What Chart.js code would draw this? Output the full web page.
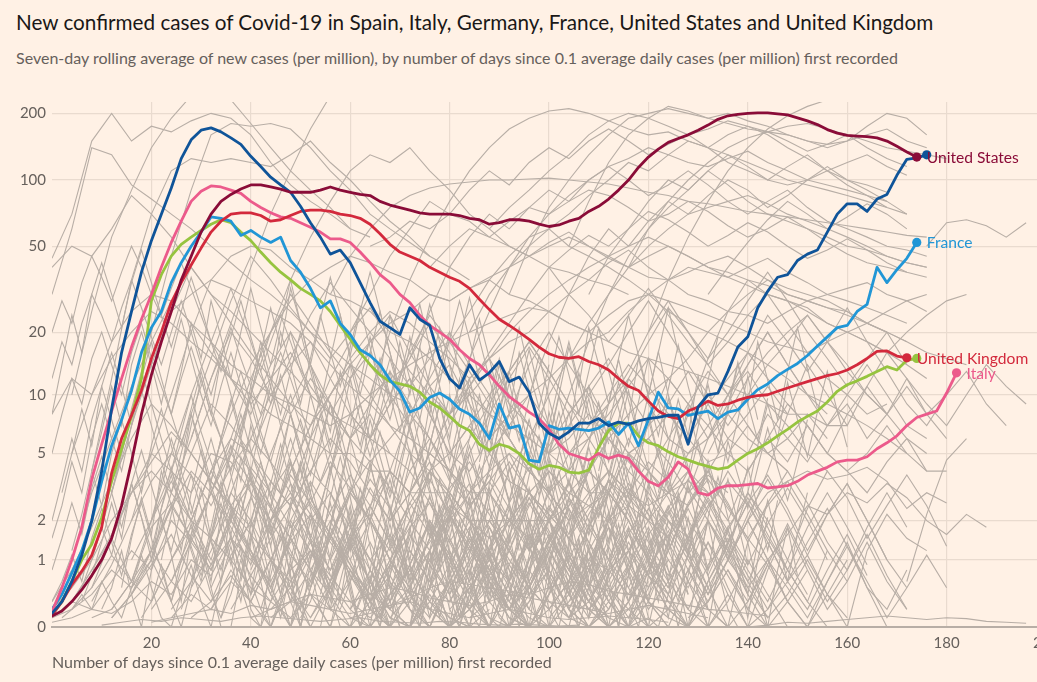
<!DOCTYPE html>
<html><head><meta charset="utf-8">
<script src="https://cdn.jsdelivr.net/npm/chart.js@4"></script>
<style>
html,body{margin:0;padding:0;background:#fff1e5;overflow:hidden;width:1037px;height:682px;}
#title{position:absolute;left:16px;top:10px;font:20.7px Lato,sans-serif;color:#1a1817;white-space:nowrap;}
#subtitle{position:absolute;left:16px;top:48px;font:16px Lato,sans-serif;color:#66605c;white-space:nowrap;}
#c{position:absolute;left:0;top:0;}
</style></head><body>
<div id="title">New confirmed cases of Covid-19 in Spain, Italy, Germany, France, United States and United Kingdom</div>
<div id="subtitle">Seven-day rolling average of new cases (per million), by number of days since 0.1 average daily cases (per million) first recorded</div>
<canvas id="c" width="1070" height="682"></canvas>
<script>
// ---- tick labels ----
const yTickValues = [0, 1, 2, 5, 10, 20, 50, 100, 200];
const xTickValues = [0, 20, 40, 60, 80, 100, 120, 140, 160, 180, 200];
const xTitle = 'Number of days since 0.1 average daily cases (per million) first recorded';

// ---- highlighted series: one value every 2 days from day 0 ----
const mainStep = 2;
const usValues = [0.12,0.18,0.3,0.47,0.7,1.0,1.5,2.5,4.5,8,12.5,18,25,35,45,58,70,80,86,91,95,95,93,91,88,88,88,90,93,90,88,86,85,80,77,75,73,71,70,70,70,69,67,66,63,64,66,66,65,63,61.5,62.5,65,67,72,76,82,90,100,114,127,138,148,154,160,168,177,188,195,198,200,201,201,199,197,191,185,178,169,163,159,158,157,155,150,142,134,127];
const spainValues = [0.15,0.3,0.6,1.1,2.0,4.0,8.5,16,25,38,53,70,92,125,152,168,172,165,155,145,128,115,103,95,88,76,64,55,46,48,42,34,27.5,22.5,21,19.5,26,23,21.5,15,12,10.8,14,11.8,12.8,14.5,11.6,12.2,10.3,7.2,6.4,6,6.5,7.2,7.2,7.6,7,7.3,7.1,7.4,7.6,7.7,7.9,7.9,5.6,8.7,10,10.2,13,17,19,26,31,36,37,43,46,48,58,70,78,78,72,82,86,105,124,126,130];
const italyValues = [0.17,0.5,1.0,1.8,3.6,5.6,8.3,12,17,23,30,40,52,65,80,89,94,93,90,87,80,75,71,68,67,64,61,58,54,54,52,47,42,37,34,30,27.5,24,21.5,20,18.5,16.5,15,14,12.5,11,9.8,9,8.2,7.6,6.7,5.6,5,4.8,4.6,5,4.7,4.9,4.7,4.0,3.5,3.3,3.7,4.5,4.1,3.0,2.9,3.2,3.3,3.3,3.35,3.4,3.2,3.25,3.3,3.5,3.8,4.0,4.2,4.5,4.6,4.6,4.8,5.3,5.7,6.2,7.0,7.7,8.0,8.3,10.2,12.8];
const germanyValues = [0.13,0.3,0.6,1.0,1.35,2.1,3.5,5.3,7.8,12,28,37,45,51,55,59,63,66,64,58,53,47,42,38,35,32,30,28,25,21.5,18.5,16,14,12.5,11.6,11.3,11,10.3,9.2,8.6,7.8,7,6.6,5.6,5.2,5.6,5.4,5,4.4,4.1,4.3,4.2,3.95,3.9,4.05,5.4,6.6,7.2,7.2,6.2,5.7,5.5,5.1,4.8,4.6,4.4,4.25,4.1,4.2,4.6,5.0,5.3,5.7,6.2,6.7,7.3,7.8,8.3,9.2,10.4,11.2,11.7,12.3,13,13.7,13.2,14.7,15];
const franceValues = [0.2,0.4,0.75,1.2,2.0,3.5,5.5,7.5,10.5,16,21,25,34,42,50,58,68,67,65,56,59,55,52,55,43,38,32,26,28,22,19.5,16.5,15.5,14,11.8,10.4,8.2,8.6,9.7,10.2,9.5,8.5,8,7.2,6,9,6.8,7,4.6,4.5,7,6.7,6.8,6.7,6.6,6.8,7.3,6.3,7.2,5.5,7.5,10.3,8.6,8.5,7.9,8.1,8.3,7.6,8.2,8.4,9.5,10.6,11.3,12.4,13.3,14.2,15.5,17.2,19,21,21.5,25,27,40,34,39,44,52];
const ukValues = [0.13,0.3,0.55,0.78,1.1,1.8,3.9,6,7.9,10.5,15,20,27.5,34,41,49,58,65,70,71,71,69,65,66,69,72,73,73,72,70,69,67,63,57,51,47,45,43,40,38,36,34.5,32,28.5,25.5,23,21.5,20,18.5,17,15.8,15.2,15,15.3,14.5,14,13.2,12,11,10.5,9.3,8.3,7.8,7.6,8.3,8.7,9.3,8.85,9,9.4,9.7,9.9,10,10.4,10.8,11.2,11.6,12,12.4,12.7,13.2,14,15,16.2,16.3,15.4,15.1];

// ---- other countries (grey): one value every 4 days from the given first day ----
const greyStep = 4;
const greyStart = [0,0,0,4,8,12,28,36,56,64,92,104,116,176,80,100,8,16,28,40,48,60,68,76,88,96,4,0,120,132,20,36,0,8,4,12,16,20,24,28,32,40,44,52,60,8,72,0,80,16,96,104,160,172,140,136,140,24,48,64,12,84,108,124];
const greyValues = [
 [44,70,150,200,150,175,165,185,200,190,160,120,95,80,70,60,55],
 [30,60,140,130,95,82,70,60,50,42,35,30,25,20,17,14,12,10,9],
 [40,50,45,60,85,70,55,40,30,25,20,16,13,10,8,7,6,5],
 [10,25,55,90,140,190,240,260,230,180,140,110,90,75,60],
 [4,12,35,70,110,125,120,125,120,115,130,150,120,100,80,65,55,45,40,35],
 [3,8,20,45,90,160,180,175,180,170,140,110,90,70,60,52,45],
 [6,12,22,40,70,110,170,240,280],
 [5,10,20,35,55,80,110,130,120,140,110,90,70,60,50,45,40,38,35,33,30],
 [30,45,60,75,85,92,96,98,100,100,101,102,100,98,96,92,88,85,80,78,75,72,70,68,66,64,62,60,58,56,55],
 [10,20,35,55,80,110,140,170,190,205,210,200,185,170,160,165,150,140,130,120,110,100,95,90,85,80,75],
 [30,50,75,100,130,160,190,200,210,200,190,180,170,165,160,150,145,150,160,170,150,140],
 [50,80,120,160,190,215,205,190,200,185,175,160,150,140,150,175,200,190,160],
 [40,60,80,100,120,140,155,165,175,180,170,160,150,140,135,130,125],
 [50,64,66,62,55,64],
 [8,15,25,40,55,70,85,100,115,125,140,130,120,115,125,135,120,110,100,95,90,85,80],
 [5,10,18,30,45,60,75,90,110,95,80,70,65,60,55,50,48,45,42,40],
 [1,3,8,15,25,30,35,32,28,25,22,18,14,11,9,7,6,5,4,3,3,2,2],
 [2,5,10,20,35,45,50,48,40,35,30,28,25,20,18,15,12,10,8,7,6,5,4,3,3,2],
 [2,4,8,14,20,28,35,40,45,42,38,35,30,28,32,36,40,45,50,55,50,45,40,36,35,38,42,45,40,35,30,28,26,25,22,20,18],
 [1,2,4,7,10,14,18,22,25,30,28,32,35,30,28,25,22,20,24,28,30,35,40,38,36,33,30,28,25,22,20,18,16,20,24,28,30],
 [3,6,10,15,20,25,22,18,15,12,15,18,20,25,30,35,42,48,40,35,30,28,25,24,22,25,28,26,24,22,20],
 [1,2,4,8,12,18,25,35,45,55,60,50,45,40,35,30,25,22,20,18,16,14,12,10,9,8,7,6,5,4,4],
 [2,3,5,8,12,15,20,25,30,35,40,45,50,55,50,45,40,38,35,33,30,28,30,32,34,30,28,25],
 [1,2,3,5,7,10,12,15,18,20,25,30,28,26,24,22,20,18,17,16,18,20,22,25,28,30],
 [2,4,6,10,15,22,30,40,50,60,70,75,80,85,78,70,65,60,55,50,45,42,40],
 [1,2,3,4,6,8,10,12,15,20,25,30,35,32,30,28,25,22,20,18,16,15,14],
 [5,10,18,25,30,28,22,18,14,12,10,9,8,7,8,10,12,14,16,18,20,22,24,26,25,22,20,18,16,15,14,13,12,11,10,9,8,8,7,7],
 [8,12,10,15,20,25,22,18,15,12,10,8,7,6,5,5,4,4,3,3,3,2,2,2,2,2],
 [2,4,8,15,25,35,30,28,26,22,20,18,16,14,12],
 [5,8,12,16,20,24,18,14,10,8,6,5],
 [1,3,6,12,20,15,10,14,18,12,8,6,9,12,8,5,4,6,8,5,3,2,3,4,3,2,1],
 [1,2,5,9,14,8,12,16,10,7,11,14,9,6,8,10,7,5,6,8,11,15,12,9,7,10,13,9,7,5,4],
 [0.2,0.5,1,2,3,4,3,2,1.5,1,0.5,0.3,0.8,1.2,0.6,0.2,0,0.4,0.8,0.3,0,0.5,1,0.6,0.2,0],
 [0.5,1.5,3,5,4,2,1,3,2,0.5,0,1,2,1,0.3,0,0.5,1.5,2.5,2,1,0.4,0,0,0.3,0.6,0.2],
 [0.3,0.8,1.5,0.6,2,3.5,2,4,2.5,1.2,0.5,1.5,0.4,0,0.8,0.2,0,0,0.5,0.1,0],
 [0.2,0.6,1.2,2.5,1.5,3,5,3.5,2,3,1.5,0.8,2,1,0.5,1.2,0.6,0.3,0.8,0.4,0.2,0.6,1.4,0.7,0.3,0.1],
 [0.5,1,0.3,1.5,0.8,2,1.2,0.4,0,0.6,1.8,0.9,0.2,0,0,0.4,0,0.3,0.9,0.2,0,0,0.5,1.2,0.3,0],
 [0.3,1,2,4,6,5,3,4.5,2.5,1.5,3,2,1,1.8,2.6,1.4,0.6,1.2,2,3,2.2,1.5,2.4,3.5,2.8,2,1.5,2.5,3.8,3],
 [0.1,0.4,0.2,0.8,0.3,0,0.6,1.4,0.5,0.1,0,0.3,0.9,0.2,0,0.5,0.1,0,0.4,0.8,0.2,0,0.3,0,0.1],
 [0.5,1.2,2.5,1.8,3.5,2.5,4,3,1.5,2.2,1,0.5,1.5,2.8,1.6,0.8,0.3,1,2,1.2,0.5,1.5,3,4.5,3.5,2,1.2],
 [0.2,0.6,0.3,1,2,1.2,0.4,0,0.8,0.2,0,0.5,1.5,0.6,0,0,0.3,1,0.4,0,0.2,0.7,0,0],
 [0.4,1,2,3.5,2.2,1.2,2.5,4,3,1.8,1,2,1.2,0.6,1.4,2.5,1.5,0.8,0.3,0.8,1.6,2.4,1.2,0.5],
 [0.1,0.3,0.8,0.4,1.5,0.6,0,0.3,1,2.2,1,0.3,0,0.5,1.3,0.4,0,0.2,0.9,1.8,0.8,0.2,0,0.4],
 [0.5,1.5,3,2,4,3,5,4,2.5,3.5,2,1.2,2.4,1.5,0.8,2,3.2,2.2,1.2,2.5,3.6,2.4,1.5,0.9],
 [0.2,0.8,0.3,1.5,2.8,1.5,0.6,1.8,0.8,0.2,1.2,2.4,1.2,0.4,0,0.8,1.6,0.6,0,0.3,1,0.4,0],
 [0.1,0.2,0.6,0.3,1,1.8,0.9,2.2,1.2,0.5,1.5,0.8,0.2,0.6,1.4,0.6,0.2,0,0.5,1.2,2,1.2,0.5,1.5,0.8,0.3,0.9,1.8,1,0.4,0,0.3,0.8,0.2,0],
 [0.3,1,2.2,1.2,3,4.5,3,2,3.5,2,1,2.5,4,2.8,1.5,0.8,1.8,2.8,1.6,0.8,0.3,1.2],
 [0.1,0.2,0.4,0.8,0.5,1.2,0.6,0.3,0.9,1.5,0.7,0.3,0.1,0.4,0.2,0,0.3,0.7,0.2,0,0,0.2,0.5,0.1,0,0.2,0.6,0.2,0,0,0.3,0.1,0],
 [0.2,0.5,1,0.4,1.6,0.8,0.2,0.8,1.8,1,0.3,0,0.6,1.4,0.5,0,0.2,0.8,0.3,0],
 [1,2,4,3,5,4.5,3,2,2.8,1.6,0.8,1.5,2.5,1.4,0.6,1.2,0.5,0.2,0.8,0.3,0,0.5,1.1,0.4,0,0.2,0.6],
 [0.5,1.2,2.5,4,3,5,6,4.5,3,4,2.5,1.5,2.5,3.5,2.2,1.2,0.6],
 [0.1,0.3,0.8,0.4,1.2,0.6,0.2,0.9,1.5,0.7,0.2,0.6,1.1,0.4,0.1],
 [0,1.2,2.2,1.5,1.2],
 [0.6,2.2,4.6,6],
 [0,0.02,0.05,0.04,0.06,0.08,0.1,0.12,0.1,0.08,0.1,0.09,0.06,0.05,0.04],
 [1,2,3,3.5,4,3.6,3.8,4.2,3.5,2.4,3,2.6],
 [0.5,1,1.6,2.5,2.2,3,2.6,3.4,2.8,2,1.6,2.2,1.8],
 [0.2,0.6,1.5,3,6,10,8,12,9,6,8,5,4,6,3.5,2.5,3.5,5,3,2,2.5,4,6,4,3,2,1.5,2.5,3.5,2.5],
 [0.5,1.5,4,8,6,9,12,8,5,7,10,6,4,5.5,8,11,7,5,4,6,9,13,10,7,5,6,8,6],
 [0.3,0.8,2,4,3,5,8,6,4,3,5,7,10,14,11,8,6,9,12,16,12,9,7,5,4,5,7,5],
 [0.1,0.4,1,2.5,5,9,7,5,3.5,2.5,4,6,4.5,3,2,3,4.5,3,2,1.5,2,3,2.2,1.5,1,0.8,1.2,0.7,0.4],
 [0.5,1,2,1.5,3,2,4,3,6,4,3,5,7,5,4,6,9,7,5,4,3,4.5,6,4],
 [0.2,0.5,1.2,2,3,2.5,4,6,5,8,6,4.5,7,9,6,8,11,8,10,13,9,7],
 [0.5,1.5,3,2,4,6,4.5,7,5,8,11,8,12,9,7,10,14,11,9]
];

// low-incidence countries (grey), same 4-day spacing
const lowStart = [0,4,8,12,16,20,24,28,32,36,40,44,48,52,56,60,64,68,72,76,80,84,88,92,96,100,104,108,112,116,0,0,0,124,128,20,40,10,60];
const lowValues = [
 [0.1,0.3,0.2,0.6,1.2,0.8,2,1.4,3,1.8,0.9,2.4,1.2,0.5,1.6,0.7,0.2,0.9,0.3,0,0.6,0.2,0,0.4,0.1,0],
 [0.2,0.5,1.1,0.6,1.8,2.6,1.5,0.8,2.2,3.4,2,1.1,0.6,1.5,0.8,0.3,1,0.4,0.1,0.6,1.3,0.5,0.2,0.8,0.3,0.1,0],
 [0.3,0.9,2,3.5,5,3.8,2.5,4.2,6,4.5,3,2,3,1.8,1,1.6,0.8,1.4,2.2,1.3,0.7,1.2,0.5,0.2,0.6,0.2],
 [0.1,0.4,0.9,1.6,0.7,0.3,1.1,2,1,0.4,0,0.5,1.4,0.6,0.1,0,0.3,0.9,1.8,0.8,0.2,0,0.4,1,0.3,0],
 [0.4,1.2,2.4,4,3,5.5,4,2.5,1.5,2.8,1.6,3.2,2,1,0.5,1.2,2.4,1.4,0.6,0.2,0.8,1.6,0.7,0.2,0,0.3,0.8,0.3],
 [0.2,0.6,1.4,0.8,2,1.1,0.5,1.6,2.8,1.6,0.7,0.3,1,0.4,0,0.7,1.5,0.6,0.1,0,0.4,1.1,0.5,0.1,0],
 [0.6,1.6,3,2,4.2,3,1.8,2.6,4.5,3.2,2,1.2,2.4,3.6,2.2,1.2,0.6,1.4,2.6,1.5,0.8,1.8,3,2,1,0.5],
 [0.1,0.3,0.7,0.3,1,0.5,0.1,0.6,1.4,0.6,0.1,0,0.5,1.2,0.5,0,0,0.3,0.8,0.2,0,0.4,0.9,0.3,0],
 [0.5,1.4,2.8,1.6,3.4,2.2,1,2,3.6,2.4,1.2,0.6,1.8,3,1.8,0.9,2,1,0.4,1.2,2.2,1.2,0.5,1.4,0.6,0.2],
 [0.2,0.7,1.5,2.5,1.4,0.6,1.8,1,0.3,0.9,2,1.1,0.4,0,0.6,1.6,0.7,0.2,0.9,0.3,0,0.5,1.2,0.4],
 [0.8,2,3.8,2.6,1.6,3,4.6,3.2,2,1.2,2.2,3.4,2.2,1.2,0.6,1.4,2.4,1.4,0.7,1.6,2.8,1.8,1,0.4,1,0.5],
 [0.2,0.5,1.2,0.5,1.6,0.8,0.2,0.9,1.9,0.9,0.3,0,0.7,1.5,0.6,0.1,0.5,1.3,0.5,0,0.2,0.8,0.2,0],
 [0.4,1.1,2.3,3.8,2.5,1.4,2.6,4,2.8,1.6,0.8,1.6,2.8,1.6,0.8,0.3,1,2,1,0.4,1.1,2,1.1,0.4],
 [0.1,0.5,1.3,0.6,0.2,0.9,2,1,0.4,1.2,0.5,0,0.4,1.1,0.4,0,0.3,0.9,0.3,0,0.6,1.4,0.6,0.1],
 [0.6,1.6,3.2,2,4,2.6,1.4,2.4,3.8,2.4,1.2,2,3.4,2,1,0.5,1.3,2.5,1.5,0.7,1.7,3,1.8,0.8],
 [0.2,0.6,1.5,0.7,2,1.1,0.4,1.3,2.5,1.3,0.5,0.1,0.8,1.8,0.8,0.2,0.6,1.4,0.5,0,0.3,0.9,0.3],
 [0.5,1.3,2.6,1.6,3.2,4.5,3,1.8,3,2,1,2.2,3.5,2.2,1.1,0.5,1.5,2.7,1.6,0.8,0.3,1,0.4],
 [0.1,0.4,1,0.4,1.5,0.7,0.2,1,2,0.9,0.3,0.8,1.7,0.7,0.2,0,0.5,1.2,0.4,0,0.3,0.8],
 [0.6,1.5,3,2,1.2,2.6,4.2,2.8,1.6,2.8,4,2.6,1.4,0.7,1.6,2.8,1.7,0.9,1.9,3.2,2,1],
 [0.2,0.6,1.4,2.4,1.3,0.5,1.5,2.7,1.4,0.5,0.1,0.8,1.7,0.8,0.3,1,2,1,0.3,0,0.4,1],
 [0.3,0.9,2,1.2,2.8,1.7,0.8,1.8,3.2,2,1,2.2,3.6,2.3,1.2,0.6,1.4,0.6,0.2,0.8,1.6,0.7],
 [0.1,0.3,0.9,0.4,1.2,0.5,0.1,0.7,1.6,0.7,0.2,0,0.6,1.3,0.5,0.1,0.4,1,0.4,0],
 [0.4,1.2,2.5,4,2.8,1.6,3,5,3.4,2,1.2,2.4,4,2.6,1.5,0.8,1.8,3,1.8,0.9],
 [0.2,0.5,1.2,0.6,1.8,1,0.3,1.1,2.3,1.1,0.4,1,2,1,0.3,0,0.6,1.4,0.5,0],
 [0.5,1.4,2.8,1.8,3.6,2.4,1.2,2.4,4,2.6,1.4,2.6,3.8,2.4,1.2,2.2,3.4,2,1],
 [0.1,0.4,1,2,1,0.3,1.2,2.4,1.2,0.4,0,0.8,1.8,0.8,0.2,0.6,1.4,0.6,0.2],
 [0.3,0.9,2,3.4,2.2,1.2,2.6,4,2.6,1.4,2.6,4,2.6,1.4,0.8,1.8,3,1.8],
 [0.2,0.6,1.4,0.7,2,1.1,0.4,1.4,2.6,1.4,0.6,1.4,2.4,1.3,0.5,0.2,0.8],
 [0.4,1.2,2.4,1.5,3.2,2,1,2.2,3.6,2.2,1.1,2.2,3.4,2,1,0.5],
 [0.1,0.4,1,0.5,1.4,0.7,0.2,0.9,1.9,0.9,0.3,0.8,1.6,0.7,0.2],
 [0.05,0.1,0.2,0.15,0.3,0.6,0.4,1,0.7,1.5,1,0.6,1.4,2.2,1.4,0.8,0.4,0.9,1.6,0.9,0.4,1,1.8,1,0.5,0.2,0.6,1.2,0.5,0.2,0],
 [0.1,0.3,0.8,1.6,3,4.5,6.5,5,3.5,2.5,3.6,2.4,1.5,0.8,1.6,0.9,0.4,0.2,0.5,0.2,0,0.2,0.6,0.2,0],
 [0.3,0.8,1.8,3.5,6,9,7,5,3.5,2.4,1.6,1,0.6,1.2,0.7,0.3,0.1,0.4,0.8,0.3,0.1,0,0.2],
 [0.2,0.8,2,1.2,3,2,1,2.4,4,2.8,1.5,2.5,3.8,2.5,1.3],
 [0.1,0.3,0.8,0.3,1,0.5,0.1,0.6,1.3,0.6,0.1,0.5,1.1,0.5],
 [0.05,0.1,0.15,0.2,0.15,0.25,0.2,0.3,0.25,0.2,0.15,0.2,0.25,0.3,0.2,0.15,0.1,0.15,0.2,0.15,0.1,0.08,0.1,0.12,0.1,0.08,0.05],
 [0.1,0.2,0.3,0.4,0.35,0.3,0.4,0.5,0.45,0.35,0.3,0.25,0.3,0.4,0.35,0.3,0.25,0.2,0.15,0.2,0.25,0.2,0.15,0.1],
 [0.02,0.05,0.08,0.06,0.1,0.08,0.06,0.1,0.12,0.1,0.08,0.06,0.08,0.1,0.06,0.05,0.04,0.06,0.05,0.03,0.02,0.03,0.02,0.01,0.02],
 [0.1,0.15,0.25,0.35,0.5,0.6,0.55,0.5,0.45,0.4,0.5,0.6,0.55,0.45,0.4,0.35,0.3,0.25,0.2,0.18,0.15,0.12]
];

// mid- and high-incidence countries (grey), same 4-day spacing
const highStart = [20,32,44,56,12,24,68,84,100,112,4,40,128,140,60,72,84,96,108,76,88,120,64,100,132];
const highValues = [
 [2,5,10,18,12,8,14,20,14,9,6,9,13,9,6,4,6,9,6,4,3,4,6,4,3,2.5,3,4,3],
 [3,6,12,20,30,22,16,12,18,24,16,11,8,11,15,10,7,5,7,10,7,5,6,8,6,4.5,5,7,5,4],
 [2,4,7,12,18,14,10,15,22,16,11,8,12,17,12,8,11,15,10,7,9,13,9,6,8,11,8],
 [1,3,6,10,16,24,18,13,9,13,18,13,9,6,9,13,20,28,20,14,10,14,20,14,10,8],
 [3,7,14,25,40,30,22,16,12,9,7,10,14,10,7,5,4,5,7,5,3.5,3,4,3,2.5,2,2.5,2],
 [4,8,15,28,45,35,26,20,15,20,26,18,13,10,8,10,13,9,7,5,6,8,6,4.5,3.5,3,3.5,3],
 [1,2,4,7,11,16,22,30,40,30,24,18,24,32,24,18,14,18,24,30,22,16,12,10,8,9],
 [2,4,8,14,20,14,10,14,20,28,20,14,10,7,10,14,18,24,18,13,10,8],
 [1,2,4,7,12,18,26,20,15,20,28,38,28,20,15,11,15,20,14],
 [2,4,7,12,9,6,9,14,20,14,10,7,10,14,10,7,6],
 [1,3,6,11,18,28,22,16,12,9,12,16,11,8,6,4.5,6,8,6,4,3,4,5,4,3,2,2.5,3,2],
 [5,9,15,24,34,26,20,15,11,15,20,14,10,13,18,13,9,7,9,12,9,6,5,6,8,6,5,4],
 [3,6,10,16,24,18,13,18,26,18,13,9,7,10],
 [2,4,8,14,10,7,11,16,12,8,6],
 [20,30,45,60,80,70,90,110,95,120,140,125,150,170,150,130,145,160,140,120,110,100,95,100,110,120,130,115,105],
 [15,25,40,55,70,60,75,90,80,100,115,100,85,95,110,95,80,70,80,90,75,65,60,55,50,48,45],
 [20,30,40,50,60,70,85,100,120,110,130,150,140,160,175,165,150,135,145,160,140,125,115],
 [10,18,30,45,60,50,65,80,70,85,100,90,75,85,100,115,100,90,80,70],
 [30,45,60,80,100,90,110,130,115,100,115,130,110,95,85,75,70],
 [40,50,60,55,65,75,70,80,90,85,75,65,70,80,72,62,55,60,68,60,52,46,42,40,38],
 [60,75,90,110,130,160,185,200,190,175,160,170,185,175,160,140,125,110,100,95,88],
 [20,35,55,80,110,140,170,195,215,230],
 [50,55,65,60,70,65,55,50,45,52,58,50,44,40,45,50,45,40,36,40,44,38,34,30,28,26,24,22],
 [40,48,56,50,60,72,66,58,50,56,64,58,50,44,48,54,48,42,38,36],
 [30,40,52,66,80,70,60,68,78,70,60]
];

// noisy countries (grey): one value every 2 days from the given first day
const dailyStep = 2;
const dailyStart = [10,14,18,22,26,30,34,38,42,46,50,54,58,62,66,70,74,78,82,86,90,94,98,102,106,110,114,118,2,6,
                    20,26,32,38,44,50,56,62,68,74,80,86,92,98,104,110,116,122,128,134,24,40,60,100,140,
                    0,0,0,0,0,0,2,4,0,6,0,8];
const dailyValues = [
 [0.2,0.5,1.2,0.4,0,0.8,2.1,1.1,0.3,1.6,3.2,1.5,0.6,2.4,1.2,0.2,0,0.9,1.8,0.7,0,0.5,1.4,2.6,1.3,0.4,0,0.6,1.5,0.5,0,0,0.8,1.9,0.9,0.2,0,0.4,1.1,0.3],
 [0.5,1.5,2.8,1.6,4,2.5,1.2,3,5.2,3.1,1.8,0.9,2.2,3.8,2,1,0.4,1.6,2.9,1.5,0.6,1.8,3.4,1.9,0.8,0.3,1.2,2.5,1.3,0.5,0,0.7,1.6,0.6,0.1,0.4,1.2,0.5],
 [0.1,0.3,0.9,0.3,0,0.5,1.3,0.5,0,0,0.7,1.6,0.6,0,0.3,1,0.3,0,0,0.6,1.4,0.6,0,0.2,0.9,0.3,0,0,0.5,1.2,0.4,0,0.3,0.8,0.2,0],
 [1,2.2,4,2.5,1.4,3.5,6,3.8,2.2,4,2.4,1.3,2.8,4.6,2.8,1.5,0.7,1.9,3.4,2,1,2.4,4,2.4,1.2,0.6,1.6,2.9,1.6,0.7,1.5,2.8,1.4,0.6],
 [0.2,0.6,1.5,0.6,2.2,1,0.3,1.4,2.8,1.3,0.4,0,0.9,2,0.8,0.2,1.1,2.3,1,0.3,0,0.7,1.6,0.6,0.1,0.9,1.9,0.8,0.2,0,0.5,1.2,0.4],
 [0.8,1.8,3.5,2,4.8,3,1.6,3.4,5.6,3.4,1.9,1,2.4,4.2,2.4,1.2,2.6,4.4,2.5,1.3,0.6,1.7,3.1,1.7,0.8,2,3.5,2,1,0.4,1.3,2.4,1.2],
 [0.1,0.4,1,0.4,1.5,0.6,0.1,0.8,1.8,0.8,0.2,0,0.6,1.4,0.5,0,0.9,1.9,0.8,0.2,0,0.5,1.2,0.4,0,0.7,1.6,0.6,0.1,0,0.4,1],
 [0.6,1.5,3,1.7,0.8,2.4,4.2,2.4,1.2,2.8,4.8,2.8,1.5,0.8,2,3.6,2,1,2.4,4,2.3,1.2,0.6,1.7,3,1.6,0.7,1.8,3.2,1.7,0.8],
 [0.2,0.7,1.6,0.7,0,1,2.2,1,0.3,1.4,2.8,1.3,0.4,0,0.8,1.8,0.7,0.1,1,2.2,0.9,0.2,0,0.7,1.6,0.6,0.1,0.8,1.7,0.6,0.1],
 [1.2,2.6,4.5,3,1.8,3.8,6.5,4,2.4,4.4,2.6,1.5,3.2,5.2,3.2,1.8,1,2.2,3.8,2.2,1.2,2.8,4.5,2.6,1.4,0.8,1.9,3.3,1.8,0.9],
 [0.1,0.3,0.8,0.3,1.2,0.5,0,0.6,1.5,0.6,0.1,0,0.5,1.2,0.4,0,0.8,1.7,0.7,0.1,0,0.4,1.1,0.4,0,0.6,1.4,0.5,0],
 [0.4,1.1,2.4,1.3,3.2,2,0.9,2.2,3.9,2.2,1.1,0.5,1.5,2.9,1.5,0.7,1.8,3.2,1.7,0.8,0.3,1.1,2.2,1.1,0.4,1.3,2.5,1.2,0.5],
 [0.2,0.6,1.3,0.5,0,0.9,2,0.9,0.2,1.2,2.5,1.1,0.3,0,0.7,1.6,0.6,0,0.9,2,0.8,0.2,0,0.6,1.4,0.5,0.1,0.7],
 [0.8,2,3.8,2.3,1.2,3,5.2,3.2,1.8,3.4,5.6,3.4,1.9,1,2.4,4.2,2.4,1.2,2.8,4.6,2.6,1.4,0.7,1.9,3.4,1.8,0.8],
 [0.1,0.4,1.1,0.4,1.6,0.7,0.1,0.9,2,0.9,0.2,0,0.7,1.6,0.6,0,1,2.1,0.9,0.2,0,0.5,1.3,0.5,0,0.7],
 [0.5,1.3,2.7,1.5,3.6,2.2,1,2.5,4.3,2.5,1.2,0.6,1.7,3.2,1.7,0.8,2,3.6,1.9,0.9,0.4,1.3,2.5,1.2,0.5],
 [0.3,0.8,1.8,0.8,0.1,1.1,2.4,1.1,0.3,1.5,3,1.4,0.5,0,0.9,2,0.8,0.1,1.1,2.3,1,0.3,0,0.7,1.6],
 [1,2.3,4.2,2.6,1.4,3.4,5.8,3.6,2,3.8,6.2,3.8,2.1,1.1,2.6,4.5,2.6,1.4,3,5,2.8,1.5,0.8,2],
 [0.1,0.3,0.9,0.3,1.3,0.5,0,0.7,1.6,0.7,0.1,0,0.5,1.3,0.5,0,0.8,1.8,0.7,0.1,0,0.4,1.1,0.4],
 [0.4,1.2,2.5,1.4,3.3,2,0.9,2.3,4,2.3,1.1,0.5,1.6,3,1.6,0.7,1.9,3.4,1.8,0.8,0.3,1.2,2.3],
 [0.2,0.6,1.4,0.6,0,0.9,2.1,0.9,0.2,1.3,2.6,1.2,0.3,0,0.8,1.7,0.7,0.1,1,2.1,0.9,0.2],
 [0.7,1.8,3.5,2.1,1.1,2.8,4.8,3,1.6,3.2,5.2,3.2,1.8,0.9,2.2,3.9,2.2,1.1,2.6,4.3,2.4,1.3],
 [0.1,0.4,1,0.4,1.5,0.6,0.1,0.8,1.9,0.8,0.2,0,0.6,1.5,0.6,0,0.9,2,0.8,0.2,0],
 [0.5,1.4,2.8,1.6,3.8,2.3,1.1,2.6,4.4,2.6,1.3,0.6,1.8,3.3,1.8,0.8,2,3.6,1.9,0.9],
 [0.2,0.7,1.6,0.7,0,1,2.3,1,0.3,1.4,2.8,1.3,0.4,0,0.8,1.8,0.7,0.1,1,2.1],
 [0.9,2.1,4,2.4,1.3,3.2,5.4,3.3,1.8,3.5,5.8,3.5,1.9,1,2.4,4.2,2.4,1.2,2.7],
 [0.1,0.3,0.9,0.3,1.4,0.6,0,0.7,1.7,0.7,0.1,0,0.6,1.4,0.5,0,0.8,1.8,0.7],
 [0.4,1.1,2.3,1.3,3,1.8,0.8,2.1,3.7,2.1,1,0.4,1.4,2.7,1.4,0.6,1.6,3],
 [0.1,0.2,0.4,0.2,0.6,0.3,0.1,0.5,1.1,0.5,0.1,0,0.4,0.9,0.3,0,0.6,1.3,0.5,0.1,0,0.3,0.8,0.3,0,0.5,1.1,0.4,0,0,0.3,0.7,0.2,0],
 [0.3,0.7,1.4,2.6,1.5,3.4,2.1,1,2.4,4.2,2.4,1.2,0.6,1.6,3,1.6,0.7,1.9,3.4,1.8,0.8,0.3,1.1,2.2,1.1,0.4,1.3,2.5,1.2,0.5,0.1,0.7,1.5,0.6],
 [2,3.5,6,4,8,5.5,3.5,6,9.5,6,4,7,11,7,4.5,3,5,8,5,3.5,6,9,6,4,2.8,4.5,7,4.5,3],
 [4,7,12,8,15,10,6.5,11,18,12,8,13,20,13,8.5,5.5,9,14,9,6,10,15,10,6.5,4.5,7,11,7],
 [1.5,3,5.5,3.5,7,4.5,2.8,5,8,5,3,5.5,9,5.5,3.5,2.2,4,6.5,4,2.6,4.5,7.5,4.5,3,2,3.5,5.5,3.5],
 [6,10,16,11,20,14,9,15,24,16,11,17,26,17,11,7.5,12,19,12,8,13,20,13,9,6,9.5,15,9.5],
 [2.5,4.5,8,5,10,6.5,4,7,12,7.5,4.8,8,13,8,5,3.2,5.5,9,5.5,3.6,6,10,6,4,2.7,4.5,7.5],
 [3.5,6,10,6.5,13,8.5,5.5,9.5,15,10,6.5,10.5,17,11,7,4.5,7.5,12,7.5,5,8.5,13,8.5,5.5,3.8,6],
 [1.8,3.2,6,3.8,7.5,4.8,3,5.5,9,5.5,3.4,6,10,6,3.8,2.4,4.2,7,4.2,2.8,4.8,8,4.8,3.2,2.1],
 [5,8.5,14,9,18,12,7.5,13,21,14,9,14.5,23,15,9.5,6.2,10.5,16.5,10.5,7,11.5,18,11.5,7.5],
 [2.2,4,7,4.5,9,5.8,3.6,6.5,10.5,6.5,4.2,7,11.5,7,4.5,2.9,5,8.2,5,3.3,5.6,9.2,5.6],
 [3,5.5,9,6,12,7.8,5,8.5,14,9,5.8,9.5,15.5,9.5,6.2,4,6.8,11,6.8,4.5,7.5,12],
 [1.5,2.8,5,3.2,6.5,4.2,2.6,4.6,7.5,4.6,3,5,8.2,5,3.2,2.1,3.6,6,3.6,2.4,4],
 [4.5,7.5,12.5,8,16,10.5,6.8,11.5,19,12.5,8,13,21,13,8.5,5.5,9.2,15,9.2,6],
 [2,3.6,6.5,4,8.2,5.3,3.3,5.9,9.6,5.9,3.8,6.4,10.5,6.4,4.1,2.7,4.5,7.4],
 [3.2,5.8,9.8,6.4,12.8,8.3,5.3,9.1,14.8,9.4,6.1,10,16.2,10,6.5,4.2],
 [1.6,3,5.4,3.4,6.8,4.4,2.8,4.9,8,4.9,3.1,5.3,8.7,5.3,3.4],
 [4,7,11.5,7.5,15,9.8,6.2,10.7,17.4,11,7.2,11.8,19],
 [2.4,4.3,7.5,4.8,9.6,6.2,3.9,6.9,11.2,6.9,4.5,7.5,12.3,7.5],
 [3,5.5,9.5,6.2,12.4,8,5.1,8.8,14.4,9,5.9,9.6],
 [1.4,2.6,4.6,2.9,5.8,3.8,2.4,4.2,6.8,4.2,2.7,4.5,7.5],
 [5,8.4,14,9,18,11.8,7.5,13,21,13.4,8.6],
 [8,13,22,15,28,19,12,20,32,21,14,22,35,22,14,9,15,24,15,10,16,25,16,10.5,7,11,17,11],
 [10,16,26,17,32,22,14,23,36,24,15.5,25,38,25,16,10.5,17,27,17,11.5,18.5,28,18.5,12],
 [7,11.5,19,12.5,24,16,10,17,27,18,11.5,18.5,29,18.5,12,8,13,21,13,8.6,14],
 [6,10,17,11,21,14,9,15,24,15.5,10,16,26,16],
 [3,5.5,9,6,11.5,7.5,4.8,8.2,13,8.3,5.4],
 [5,8,12,9,15,20,14,10,16,22,15,11,8,12,17,12,8,6,9,13,9,6,4.5,7,10,7,5,3.5,5,7.5],
 [12,18,14,22,30,24,18,26,35,26,19,14,20,28,20,14,10,15,21,15,11,8,12,16,12,8.5,6],
 [2,3.5,6,4,7.5,11,7.5,5,8.5,13,9,6,4,6.5,10,6.5,4.5,3,5,8,5.2,3.5,2.4,4,6,4,2.8],
 [20,28,22,34,45,36,28,38,50,40,30,24,32,42,32,24,18,24,32,24,18,13,18,24,18,13,10],
 [0.8,1.5,2.6,1.6,3.2,4.8,3,1.8,3.4,5.2,3.3,2,1.2,2.4,3.8,2.4,1.4,0.8,1.6,2.8,1.6,0.9,0.4,1,1.9,1],
 [0.3,0.6,1.1,0.6,1.5,2.4,1.4,0.7,1.6,2.6,1.5,0.8,0.3,1,1.9,1,0.4,0.1,0.6,1.3,0.6,0.2,0,0.4,0.9,0.4],
 [3,5,8.5,5.5,11,16,11,7,12,18,12,8,5.5,8.5,13,8.5,6,4,6.5,10,6.5,4.5,3,5,7.5,5],
 [1.2,2.2,4,2.5,5,7.5,5,3,5.5,8.5,5.5,3.5,2.2,3.8,6,3.8,2.5,1.5,2.8,4.5,2.8,1.8,1,2,3.4,2],
 [8,14,24,16,30,42,30,21,34,48,34,24,17,25,36,26,18,13,19,28,19,13,9,14,20,14,10],
 [0.5,1,1.8,1.1,2.2,3.4,2.1,1.2,2.4,3.8,2.3,1.3,0.7,1.5,2.6,1.5,0.8,0.4,1,1.9,1,0.5,0.2,0.7,1.4,0.7],
 [1.5,2.5,4.5,3,6,9,6,4,7,10.5,7,4.5,3,5,8,5,3.3,2.2,3.6,5.8,3.6,2.4,1.6,2.8,4.4,2.8],
 [4,6.5,11,7,14,20,14,9,15,23,15,10,7,11,16,11,7.5,5,8,12.5,8,5.5,3.8,6,9,6]
];

// ---- style constants ----
const gridColor = '#e9dbcf';
const axisText = '#66605c';
const greyLine = '#b8aea6';
const toLog = v => Math.log10(1 + v);

function lineData(values, step, start) {
  return values.map((v, i) => ({ x: start + i * step, y: toLog(v) }));
}
function mainDataset(name, values, color, order, endLabel) {
  const last = values.length - 1;
  return {
    label: name, data: lineData(values, mainStep, 0), borderColor: color, backgroundColor: color,
    borderWidth: 2.8, borderJoinStyle: 'round', borderCapStyle: 'round',
    pointRadius: ctx => ctx.dataIndex === last ? 4.6 : 0, pointBorderWidth: 0,
    pointBackgroundColor: color, order: order, endLabel: endLabel, tension: 0
  };
}

const datasets = [];
function addGrey(starts, values, step) {
  values.forEach((vals, i) => {
    datasets.push({
      label: 'other', data: lineData(vals, step, starts[i]),
      borderColor: greyLine, borderWidth: 1.1, pointRadius: 0, order: 20, tension: 0
    });
  });
}
addGrey(greyStart, greyValues, greyStep);
addGrey(lowStart, lowValues, greyStep);
addGrey(highStart, highValues, greyStep);
addGrey(dailyStart, dailyValues, dailyStep);
datasets.push(mainDataset('Germany', germanyValues, '#96c43f', 7, null));
datasets.push(mainDataset('France', franceValues, '#2196d6', 6, 'France'));
datasets.push(mainDataset('Italy', italyValues, '#ec5a8b', 5, 'Italy'));
datasets.push(mainDataset('United Kingdom', ukValues, '#d3293c', 4, 'United Kingdom'));
datasets.push(mainDataset('Spain', spainValues, '#0f5499', 3, null));
datasets.push(mainDataset('United States', usValues, '#8a0c38', 2, 'United States'));

const endLabels = {
  id: 'endLabels',
  afterDatasetsDraw(chart) {
    const ctx = chart.ctx;
    ctx.save();
    ctx.font = '15.6px Lato, sans-serif';
    ctx.textBaseline = 'middle';
    chart.data.datasets.forEach((ds, i) => {
      if (!ds.endLabel) return;
      const meta = chart.getDatasetMeta(i);
      const pt = meta.data[meta.data.length - 1];
      ctx.fillStyle = ds.borderColor;
      ctx.fillText(ds.endLabel, pt.x + 10, pt.y + 1);
    });
    ctx.restore();
  }
};

new Chart(document.getElementById('c'), {
  type: 'line',
  data: { datasets: datasets },
  plugins: [endLabels],
  options: {
    responsive: false, animation: false, events: [],
    layout: { padding: { top: 102, right: 24, left: 0, bottom: 0 } },
    plugins: { legend: { display: false }, tooltip: { enabled: false }, title: { display: false } },
    scales: {
      x: {
        type: 'linear', min: 0, max: 200,
        afterBuildTicks: s => { s.ticks = xTickValues.map(v => ({ value: v })); },
        ticks: { callback: v => v === 0 ? '' : String(v), maxRotation: 0, autoSkip: false,
                 color: axisText, font: { family: 'Lato', size: 15 }, padding: 7 },
        grid: { color: c => (c.tick && c.tick.value === 0) ? 'rgba(0,0,0,0)' : gridColor, drawTicks: false, lineWidth: 1.2 },
        border: { display: true, color: greyLine, width: 2 },
        title: { display: true, text: xTitle, align: 'start', color: axisText,
                 font: { family: 'Lato', size: 16 }, padding: { top: 4, bottom: 10 } },
        afterFit: s => { s.height = 55; }
      },
      y: {
        type: 'linear', min: 0, max: toLog(225),
        afterBuildTicks: s => { s.ticks = yTickValues.map(v => ({ value: toLog(v) })); },
        ticks: { callback: (v, i) => String(yTickValues[i]), color: axisText,
                 font: { family: 'Lato', size: 15 }, padding: 6 },
        grid: { color: gridColor, drawTicks: false, lineWidth: 1.2 },
        border: { display: false },
        afterFit: s => { s.width = 52; }
      }
    }
  }
});
</script>
</body></html>
